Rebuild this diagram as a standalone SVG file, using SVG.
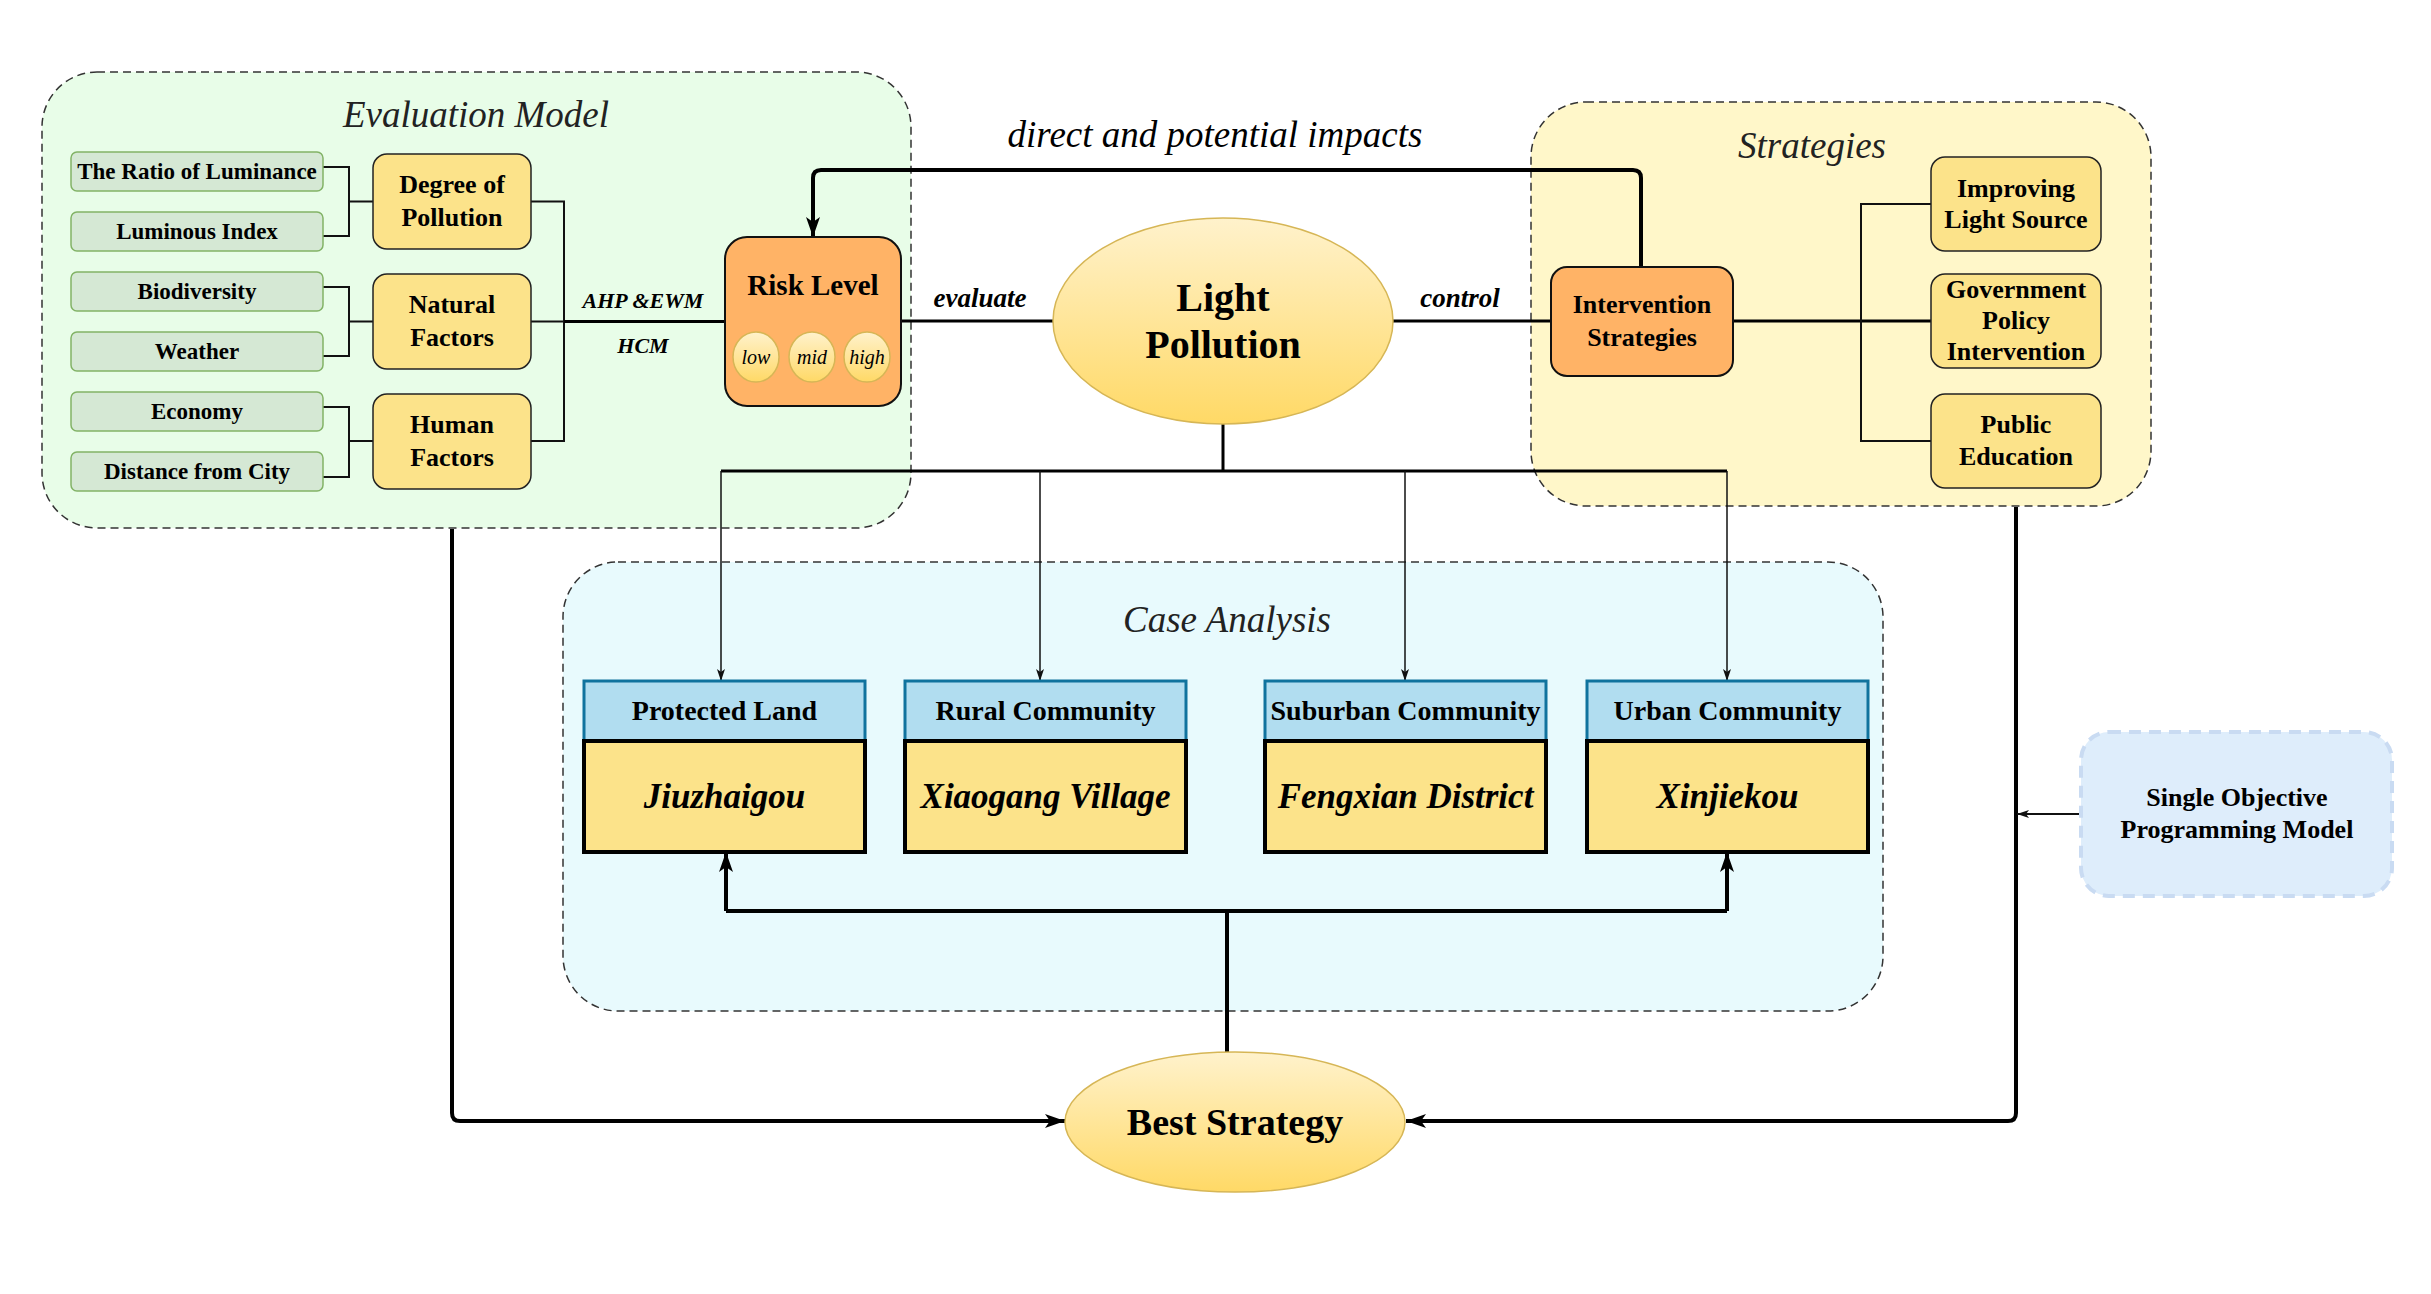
<svg xmlns="http://www.w3.org/2000/svg" width="2431" height="1294" viewBox="0 0 2431 1294">
<defs>
<style>
text{font-family:"Liberation Serif","Times New Roman",serif;fill:#000;text-anchor:middle}
.b{font-weight:bold}
.i{font-style:italic}
.title{font-style:italic;font-size:37px;fill:#222}
.grp{stroke:#333;stroke-width:1.5;stroke-dasharray:8 5}
.leaf{fill:#d5e8d4;stroke:#82b366;stroke-width:1.5}
.ybox{fill:#fce38a;stroke:#222;stroke-width:1.5}
.obox{fill:#ffb366;stroke:#111;stroke-width:2}
.hdr{fill:#b1ddf0;stroke:#10739e;stroke-width:3}
.body{fill:#fce38a;stroke:#000;stroke-width:4}
.ln{fill:none;stroke:#111;stroke-width:2}
.ln3{fill:none;stroke:#000;stroke-width:3}
.ln4{fill:none;stroke:#000;stroke-width:4}
.thin{fill:none;stroke:#111;stroke-width:1.5}
.t22{font-size:22px}
.t23{font-size:23px}
.t26{font-size:26px}
</style>
<linearGradient id="gy" x1="0" y1="0" x2="0" y2="1">
<stop offset="0" stop-color="#fff2cc"/>
<stop offset="1" stop-color="#ffd966"/>
</linearGradient>
<marker id="aBig" viewBox="0 0 20 14" refX="20" refY="7" markerWidth="20" markerHeight="14" markerUnits="userSpaceOnUse" orient="auto">
<path d="M0,0 L20,7 L0,14 L5,7 z" fill="#000"/>
</marker>
<marker id="aSm" viewBox="0 0 12 8" refX="12" refY="4" markerWidth="12" markerHeight="8" markerUnits="userSpaceOnUse" orient="auto">
<path d="M0,0 L12,4 L0,8 L3,4 z" fill="#111"/>
</marker>
</defs>
<rect width="2431" height="1294" fill="#fff"/>

<!-- Containers -->
<g id="evaluation-model">
<rect x="42" y="72" width="869" height="456" rx="55" fill="#e8fde8" class="grp"/>
<text x="476" y="127" class="title">Evaluation Model</text>
</g>
<g id="strategies">
<rect x="1531" y="102" width="620" height="404" rx="55" fill="#fff7c9" class="grp"/>
<text x="1812" y="158" class="title">Strategies</text>
</g>
<g id="case-analysis">
<rect x="563" y="562" width="1320" height="449" rx="55" fill="#e8fafd" class="grp"/>
<text x="1227" y="632" class="title">Case Analysis</text>
</g>

<!-- Connectors -->
<g id="connectors">
<path class="ln" d="M323,167 H349 V236 H323 M349,201.5 H373"/>
<path class="ln" d="M323,287 H349 V356 H323 M349,321.5 H373"/>
<path class="ln" d="M323,407 H349 V477 H323 M349,441 H373"/>
<path class="ln" d="M531,201.5 H564 V441 H531 M531,321.5 H564"/>
<path class="ln3" d="M564,321.5 H725"/>
<path class="ln3" d="M901,321 H1053"/>
<path class="ln3" d="M1393,321 H1551"/>
<path class="ln3" d="M1733,321 H1931"/>
<path class="ln" d="M1931,204 H1861 V441 H1931"/>
<path class="ln4" d="M1641,267 V178 Q1641,170 1633,170 H821 Q813,170 813,178 V237" marker-end="url(#aBig)"/>
<path class="ln3" d="M1223,424 V471 M721,471 H1727"/>
<path class="thin" d="M721,471 V681" marker-end="url(#aSm)"/>
<path class="thin" d="M1040,471 V681" marker-end="url(#aSm)"/>
<path class="thin" d="M1405,471 V681" marker-end="url(#aSm)"/>
<path class="thin" d="M1727,471 V681" marker-end="url(#aSm)"/>
<path class="ln4" d="M1227,1052 V911"/>
<path class="ln4" d="M726,911 H1727"/>
<path class="ln4" d="M726,911 V852" marker-end="url(#aBig)"/>
<path class="ln4" d="M1727,911 V852" marker-end="url(#aBig)"/>
<path class="ln4" d="M452,529 V1113 Q452,1121 460,1121 H1065" marker-end="url(#aBig)"/>
<path class="ln4" d="M2016,507 V1113 Q2016,1121 2008,1121 H1406" marker-end="url(#aBig)"/>
<path class="ln" d="M2080,814 H2017" marker-end="url(#aSm)"/>
<text x="643" y="308" class="b i t22">AHP &amp;EWM</text>
<text x="643" y="353" class="b i t22">HCM</text>
<text x="980" y="307" class="b i" font-size="27">evaluate</text>
<text x="1460" y="307" class="b i" font-size="27">control</text>
<text x="1215" y="147" class="i" font-size="37">direct and potential impacts</text>
</g>

<!-- Leaf nodes -->
<g id="ratio-of-luminance"><rect x="71" y="152" width="252" height="39" rx="6" class="leaf"/><text x="197" y="179" class="b t23">The Ratio of Luminance</text></g>
<g id="luminous-index"><rect x="71" y="212" width="252" height="39" rx="6" class="leaf"/><text x="197" y="239" class="b t23">Luminous Index</text></g>
<g id="biodiversity"><rect x="71" y="272" width="252" height="39" rx="6" class="leaf"/><text x="197" y="299" class="b t23">Biodiversity</text></g>
<g id="weather"><rect x="71" y="332" width="252" height="39" rx="6" class="leaf"/><text x="197" y="359" class="b t23">Weather</text></g>
<g id="economy"><rect x="71" y="392" width="252" height="39" rx="6" class="leaf"/><text x="197" y="419" class="b t23">Economy</text></g>
<g id="distance-from-city"><rect x="71" y="452" width="252" height="39" rx="6" class="leaf"/><text x="197" y="479" class="b t23">Distance from City</text></g>

<g id="degree-of-pollution"><rect x="373" y="154" width="158" height="95" rx="14" class="ybox"/><text x="452" y="193" class="b t26">Degree of</text><text x="452" y="226" class="b t26">Pollution</text></g>
<g id="natural-factors"><rect x="373" y="274" width="158" height="95" rx="14" class="ybox"/><text x="452" y="313" class="b t26">Natural</text><text x="452" y="346" class="b t26">Factors</text></g>
<g id="human-factors"><rect x="373" y="394" width="158" height="95" rx="14" class="ybox"/><text x="452" y="433" class="b t26">Human</text><text x="452" y="466" class="b t26">Factors</text></g>

<g id="risk-level">
<rect x="725" y="237" width="176" height="169" rx="22" class="obox"/>
<text x="813" y="295" class="b" font-size="29">Risk Level</text>
<ellipse cx="756" cy="357" rx="23" ry="25" fill="url(#gy)" stroke="#d6b656" stroke-width="1.5"/>
<ellipse cx="812" cy="357" rx="23" ry="25" fill="url(#gy)" stroke="#d6b656" stroke-width="1.5"/>
<ellipse cx="867" cy="357" rx="23" ry="25" fill="url(#gy)" stroke="#d6b656" stroke-width="1.5"/>
<text x="756" y="364" class="i" font-size="20">low</text>
<text x="812" y="364" class="i" font-size="20">mid</text>
<text x="867" y="364" class="i" font-size="20">high</text>
</g>

<g id="light-pollution">
<ellipse cx="1223" cy="321" rx="170" ry="103" fill="url(#gy)" stroke="#d6b656" stroke-width="1.5"/>
<text x="1223" y="311" class="b" font-size="40">Light</text>
<text x="1223" y="358" class="b" font-size="40">Pollution</text>
</g>

<g id="intervention-strategies">
<rect x="1551" y="267" width="182" height="109" rx="16" class="obox"/>
<text x="1642" y="313" class="b t26">Intervention</text>
<text x="1642" y="346" class="b t26">Strategies</text>
</g>

<g id="improving-light-source"><rect x="1931" y="157" width="170" height="94" rx="14" class="ybox"/><text x="2016" y="197" class="b t26">Improving</text><text x="2016" y="228" class="b t26">Light Source</text></g>
<g id="government-policy-intervention"><rect x="1931" y="274" width="170" height="94" rx="14" class="ybox"/><text x="2016" y="298" class="b t26">Government</text><text x="2016" y="329" class="b t26">Policy</text><text x="2016" y="360" class="b t26">Intervention</text></g>
<g id="public-education"><rect x="1931" y="394" width="170" height="94" rx="14" class="ybox"/><text x="2016" y="433" class="b t26">Public</text><text x="2016" y="465" class="b t26">Education</text></g>

<g id="protected-land">
<rect x="584" y="681" width="281" height="60" class="hdr"/>
<rect x="584" y="741" width="281" height="111" class="body"/>
<text x="724.5" y="720" class="b" font-size="28">Protected Land</text>
<text x="724.5" y="808" class="b i" font-size="35">Jiuzhaigou</text>
</g>
<g id="rural-community">
<rect x="905" y="681" width="281" height="60" class="hdr"/>
<rect x="905" y="741" width="281" height="111" class="body"/>
<text x="1045.5" y="720" class="b" font-size="28">Rural Community</text>
<text x="1045.5" y="808" class="b i" font-size="35">Xiaogang Village</text>
</g>
<g id="suburban-community">
<rect x="1265" y="681" width="281" height="60" class="hdr"/>
<rect x="1265" y="741" width="281" height="111" class="body"/>
<text x="1405.5" y="720" class="b" font-size="28">Suburban Community</text>
<text x="1405.5" y="808" class="b i" font-size="35">Fengxian District</text>
</g>
<g id="urban-community">
<rect x="1587" y="681" width="281" height="60" class="hdr"/>
<rect x="1587" y="741" width="281" height="111" class="body"/>
<text x="1727.5" y="720" class="b" font-size="28">Urban Community</text>
<text x="1727.5" y="808" class="b i" font-size="35">Xinjiekou</text>
</g>

<g id="best-strategy">
<ellipse cx="1235" cy="1122" rx="170" ry="70" fill="url(#gy)" stroke="#d6b656" stroke-width="1.5"/>
<text x="1235" y="1135" class="b" font-size="38">Best Strategy</text>
</g>

<g id="single-objective-programming-model">
<rect x="2081" y="732" width="311" height="164" rx="28" fill="#deedfb" stroke="#c9dbf2" stroke-width="4" stroke-dasharray="12 8"/>
<text x="2237" y="806" class="b t26">Single Objective</text>
<text x="2237" y="838" class="b t26">Programming Model</text>
</g>
</svg>
